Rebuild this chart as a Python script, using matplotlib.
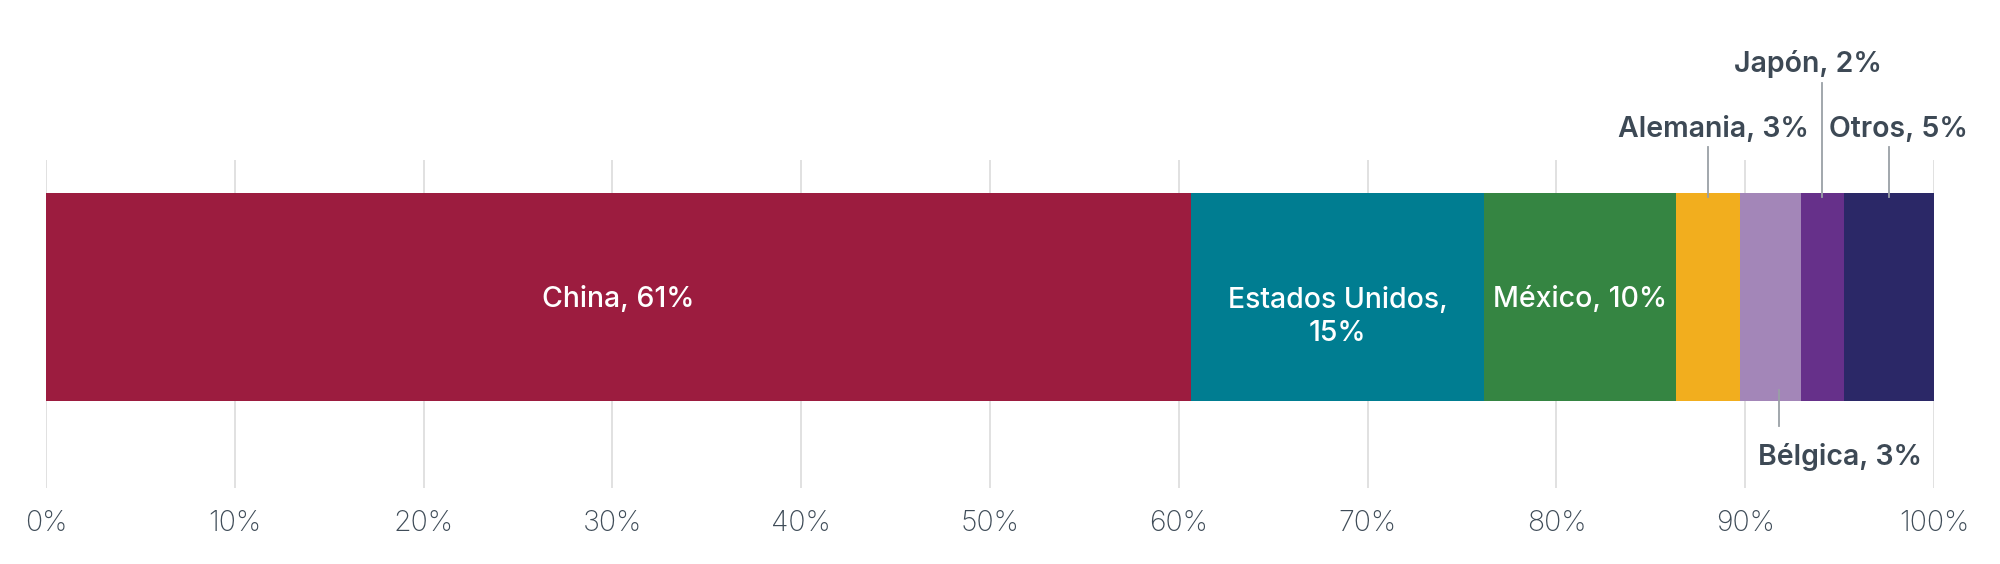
import matplotlib
matplotlib.use("Agg")
import matplotlib.pyplot as plt
import numpy as np

countries = ["China", "Estados Unidos", "México", "Alemania", "Bélgica", "Japón", "Otros"]
values = [60.65, 15.5, 10.18, 3.39, 3.22, 2.29, 4.77]
labels = ["China, 61%", "Estados Unidos,\n15%", "México, 10%", "Alemania, 3%",
          "Bélgica, 3%", "Japón, 2%", "Otros, 5%"]
colors = ["#9C1C3F", "#007D91", "#358542", "#F2AE1E", "#A386B8", "#66308A", "#2B2867"]
tick_values = [0, 10, 20, 30, 40, 50, 60, 70, 80, 90, 100]
tick_labels = [f"{t}%" for t in tick_values]

plt.rcParams['font.family'] = ['Inter', 'DejaVu Sans']

fig = plt.figure(figsize=(20, 5.64), dpi=100)
fig.patch.set_facecolor("white")
ax = fig.add_axes([0.023, 0.1348, 0.944, 0.5816])

lefts = np.concatenate([[0], np.cumsum(values)[:-1]])
ax.barh([0] * len(values), values, left=lefts, height=1.0, color=colors, zorder=2)

ax.set_xlim(0, 100)
ax.set_ylim(-0.918, 0.659)
ax.set_xticks(tick_values)
ax.set_xticklabels(tick_labels)
ax.tick_params(axis='x', length=0, pad=16, labelsize=20.5, labelcolor="#3f4c58")
for lab in ax.get_xticklabels():
    lab.set_fontweight("light")
ax.set_yticks([])
for s in ax.spines.values():
    s.set_visible(False)
ax.grid(axis='x', color="#dcdcdc", linewidth=1.2, zorder=0)
ax.set_axisbelow(True)

centers = lefts + np.array(values) / 2
text_dark = "#3d4955"
lw_line = "#9aa0a6"
fs = 20.5

# inside labels (first three)
ax.text(centers[0], -0.01, labels[0], ha='center', va='center', color='white',
        fontsize=fs, fontweight='medium', zorder=3)
ax.text(centers[1], -0.095, labels[1], ha='center', va='center', color='white',
        fontsize=fs, fontweight='medium', linespacing=1.3, zorder=3)
ax.text(centers[2], -0.01, labels[2], ha='center', va='center', color='white',
        fontsize=fs, fontweight='medium', zorder=3)

# Alemania
ax.plot([centers[3], centers[3]], [0.721, 0.481], color=lw_line, lw=1.3, zorder=3, clip_on=False)
ax.text(centers[3] + 0.3, 0.771, labels[3], ha='center', va='baseline', color=text_dark,
        fontsize=fs, fontweight='semibold', clip_on=False)
# Japón
ax.plot([centers[5], centers[5]], [1.029, 0.481], color=lw_line, lw=1.3, zorder=3, clip_on=False)
ax.text(centers[5] - 0.75, 1.083, labels[5], ha='center', va='baseline', color=text_dark,
        fontsize=fs, fontweight='semibold', clip_on=False)
# Otros
ax.plot([centers[6], centers[6]], [0.721, 0.481], color=lw_line, lw=1.3, zorder=3, clip_on=False)
ax.text(centers[6] + 0.5, 0.771, labels[6], ha='center', va='baseline', color=text_dark,
        fontsize=fs, fontweight='semibold', clip_on=False)
# Bélgica
ax.plot([centers[4] + 0.45, centers[4] + 0.45], [-0.447, -0.619], color=lw_line, lw=1.3, zorder=3, clip_on=False)
ax.text(centers[4] + 3.7, -0.808, labels[4], ha='center', va='baseline', color=text_dark,
        fontsize=fs, fontweight='semibold', zorder=3,
        bbox=dict(facecolor='white', edgecolor='none', pad=2))

fig.savefig("out.png", dpi=100, facecolor="white")
